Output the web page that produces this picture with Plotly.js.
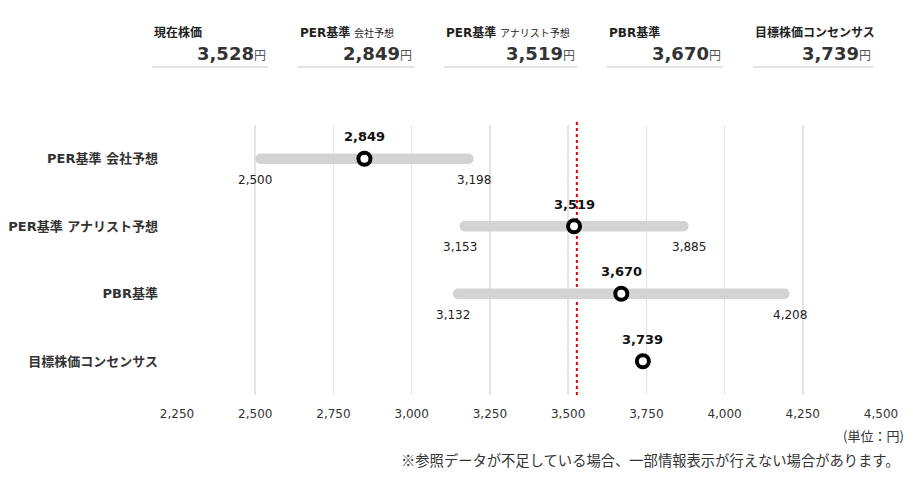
<!DOCTYPE html>
<html>
<head>
<meta charset="utf-8">
<script src="https://cdn.plot.ly/plotly-3.0.1.min.js"></script>
<style>
  html, body { margin: 0; padding: 0; background: #fff; }
  #chart { width: 913px; height: 478px; }
</style>
</head>
<body>
<div id="chart"></div>
<script>
// ---- Data ----
const categories = ['PER基準 会社予想', 'PER基準 アナリスト予想', 'PBR基準', '目標株価コンセンサス'];
const values = [2849, 3519, 3670, 3739];
const lows = [2500, 3153, 3132, null];
const highs = [3198, 3885, 4208, null];
const currentPrice = 3528;
const summaryLabels = ['現在株価', 'PER基準', 'PER基準', 'PBR基準', '目標株価コンセンサス'];
const summarySubLabels = ['', '会社予想', 'アナリスト予想', '', ''];
const summaryValues = [currentPrice, values[0], values[1], values[2], values[3]];
const xTicks = [2250, 2500, 2750, 3000, 3250, 3500, 3750, 4000, 4250, 4500];

// ---- Layout geometry (pixels) ----
const W = 913, H = 478;
const M = { l: 177, r: 32, t: 125, b: 83 };
const PW = W - M.l - M.r, PH = H - M.t - M.b;
const px2x = p => (p - M.l) / PW;
const py2y = p => (H - M.b - p) / PH;
const FONT = '"DejaVu Sans", "Noto Sans CJK JP", sans-serif';
const fmt = v => v.toLocaleString('en-US');

const traces = [];
// range bars with rounded corners
const rangeIdx = categories.map((c, i) => i).filter(i => lows[i] != null);
traces.push({
  type: 'bar', orientation: 'h',
  y: rangeIdx.map(i => categories[i]),
  base: rangeIdx.map(i => lows[i]),
  x: rangeIdx.map(i => highs[i] - lows[i]),
  width: 0.155,
  marker: { color: '#d3d3d3', cornerradius: 5, line: { width: 0 } },
  hoverinfo: 'skip', showlegend: false
});
// value markers
traces.push({
  type: 'scatter', mode: 'markers',
  x: values, y: categories,
  marker: { symbol: 'circle', size: 12, color: '#fff', line: { color: '#000', width: 4 } },
  showlegend: false, cliponaxis: false
});
// current price triangle
traces.push({
  type: 'scatter', mode: 'markers',
  x: [currentPrice], y: [-0.69],
  marker: { symbol: 'triangle-down', size: 13, color: '#e60000' },
  showlegend: false, cliponaxis: false
});

const annotations = [];
categories.forEach((c, i) => {
  annotations.push({
    x: values[i], y: c, xref: 'x', yref: 'y', yshift: 22, showarrow: false,
    text: '<b>' + fmt(values[i]) + '</b>',
    font: { family: FONT, size: 13, color: '#111' }
  });
  if (lows[i] != null) {
    [lows[i], highs[i]].forEach(v => annotations.push({
      x: v, y: c, xref: 'x', yref: 'y', yshift: -21, showarrow: false,
      text: fmt(v), font: { family: FONT, size: 12, color: '#222' }
    }));
  }
});
annotations.push({
  x: currentPrice, y: -0.69, xref: 'x', yref: 'y', xshift: 9, xanchor: 'left', yanchor: 'middle', showarrow: false,
  text: '現在株価:' + fmt(currentPrice) + '円',
  font: { family: FONT, size: 13, color: '#222' }
});
annotations.push({
  x: px2x(906), y: py2y(435), xref: 'paper', yref: 'paper', xanchor: 'right', yanchor: 'middle', showarrow: false,
  text: '(単位：円)', font: { family: '"Noto Sans CJK JP", sans-serif', size: 13, color: '#333' }
});
annotations.push({
  x: px2x(902), y: py2y(459), xref: 'paper', yref: 'paper', xanchor: 'right', yanchor: 'middle', showarrow: false,
  text: '※参照データが不足している場合、一部情報表示が行えない場合があります。',
  font: { family: '"Noto Sans CJK JP", sans-serif', size: 14.3, color: '#333' }
});

// summary boxes
const boxLeft = [152, 298, 444, 607, 753];
const boxRight = [268, 414, 577, 723, 873];
const shapes = [];
summaryLabels.forEach((lab, i) => {
  let t = '<b>' + lab + '</b>';
  if (summarySubLabels[i]) t += ' <span style="font-size:10px">' + summarySubLabels[i] + '</span>';
  annotations.push({
    x: px2x(boxLeft[i]), y: py2y(33), xref: 'paper', yref: 'paper', xanchor: 'left', yanchor: 'middle',
    showarrow: false, text: t, font: { family: FONT, size: 12, color: '#222' }
  });
  annotations.push({
    x: px2x(boxRight[i]), y: py2y(54), xref: 'paper', yref: 'paper', xanchor: 'right', yanchor: 'middle',
    showarrow: false,
    text: '<b>' + fmt(summaryValues[i]) + '</b><span style="font-size:12px;color:#555">円</span>',
    font: { family: FONT, size: 18, color: '#333' }
  });
  shapes.push({
    type: 'line', xref: 'paper', yref: 'paper',
    x0: px2x(boxLeft[i]), x1: px2x(boxRight[i]), y0: py2y(67), y1: py2y(67),
    line: { color: '#c8c8c8', width: 1 }
  });
});
// current price dotted line
shapes.push({
  type: 'line', xref: 'x', yref: 'paper', x0: currentPrice, x1: currentPrice, layer: 'below',
  y0: 0, y1: py2y(119), line: { color: '#e60000', width: 2, dash: 'dot' }
});

const layout = {
  width: W, height: H,
  margin: M,
  paper_bgcolor: '#fff', plot_bgcolor: '#fff',
  font: { family: FONT, size: 12, color: '#333' },
  barmode: 'overlay',
  xaxis: {
    range: [2250, 4500], tickvals: xTicks, ticktext: xTicks.map(fmt),
    showgrid: true, gridcolor: '#e5e5e5', gridwidth: 1.5, zeroline: false, showline: false,
    ticks: '', ticklabelstandoff: 10, tickfont: { family: FONT, size: 12, color: '#333' }, fixedrange: true
  },
  yaxis: {
    type: 'category', categoryorder: 'array', categoryarray: categories,
    range: [3.5, -0.5], showgrid: false, zeroline: false, showline: false, ticks: '',
    ticklabelstandoff: 18, tickfont: { family: FONT, size: 13, color: '#333', weight: 'bold' }, fixedrange: true
  },
  annotations, shapes, showlegend: false, hovermode: false
};

Plotly.newPlot('chart', traces, layout, { displayModeBar: false, staticPlot: true });
</script>
</body>
</html>
